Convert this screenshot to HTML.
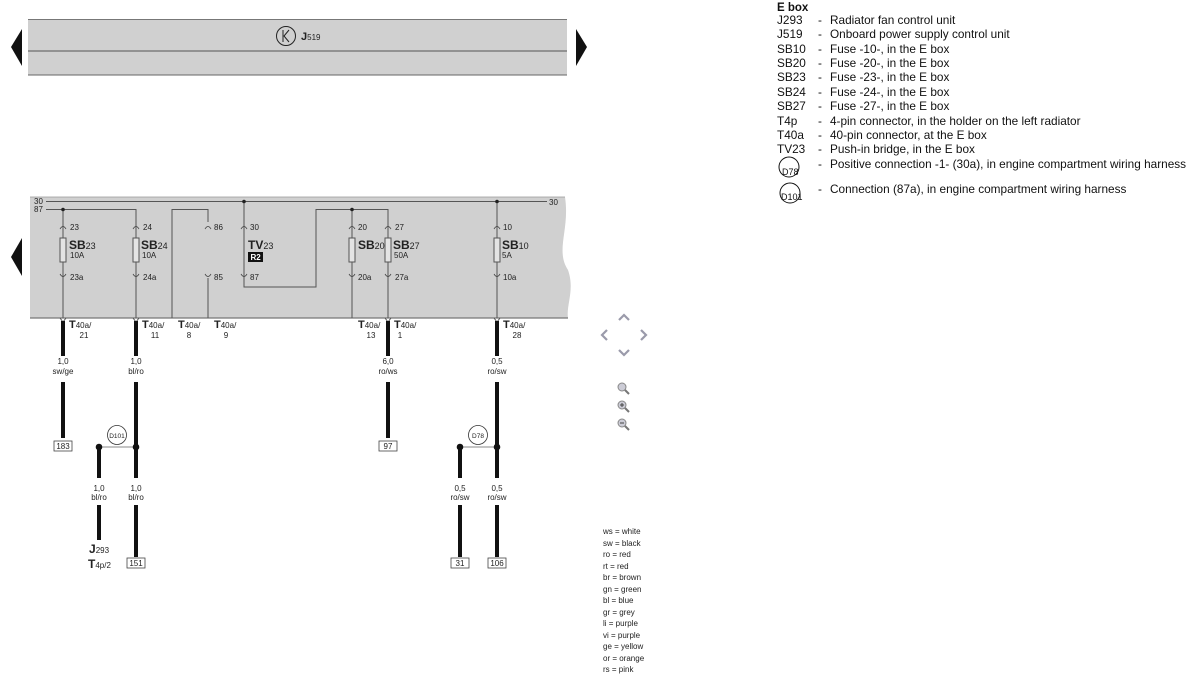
<!DOCTYPE html>
<html><head><meta charset="utf-8"><style>
html,body{margin:0;padding:0;background:#fff;}
svg{display:block;font-family:"Liberation Sans",Arial,sans-serif;}
.s{font-size:8px;fill:#222;}
.lg{font-size:11.8px;fill:#111;}
</style></head><body>
<svg width="1200" height="679" viewBox="0 0 1200 679" xmlns="http://www.w3.org/2000/svg">
<rect x="28" y="19" width="539" height="56" fill="#d0d0d0"/>
<line x1="28" y1="19.5" x2="567" y2="19.5" stroke="#777" stroke-width="1"/>
<line x1="28" y1="51" x2="567" y2="51" stroke="#555" stroke-width="1"/>
<line x1="28" y1="75" x2="567" y2="75" stroke="#666" stroke-width="1"/>
<polygon points="22,29 22,66 11,47" fill="#111"/>
<polygon points="576,29 576,66 587,47" fill="#111"/>
<circle cx="286" cy="36" r="9.5" fill="none" stroke="#222" stroke-width="1"/>
<path d="M283 30 L283 42 M289 30 L284 36 L289 42" stroke="#222" fill="none" stroke-width="1"/>
<text x="301" y="40" font-size="11" font-weight="bold" fill="#222">J<tspan font-size="8" font-weight="normal">519</tspan></text>

<path d="M30 197 L565 197 C570 230 555 250 568 270 C575 290 566 305 568 318 L30 318 Z" fill="#d0d0d0"/>
<line x1="30" y1="318" x2="568" y2="318" stroke="#777" stroke-width="1.2"/>
<line x1="30" y1="197" x2="565" y2="197" stroke="#999" stroke-width="0.8"/>
<polygon points="22,238 22,276 11,257" fill="#111"/>
<text x="34" y="204" class="s">30</text>
<text x="34" y="212" class="s">87</text>
<text x="549" y="205" class="s">30</text>
<g stroke="#555" stroke-width="1" fill="none">
<line x1="46" y1="201.5" x2="547" y2="201.5"/>
<polyline points="46,209.5 136,209.5 136,318"/>
<line x1="63" y1="209.5" x2="63" y2="318"/>
<polyline points="172,318 172,209.5 208,209.5 208,222"/>
<line x1="208" y1="278" x2="208" y2="318"/>
<polyline points="244,201.5 244,287 316,287 316,209.5 388,209.5 388,318"/>
<line x1="352" y1="209.5" x2="352" y2="318"/>
<line x1="497" y1="201.5" x2="497" y2="318"/>
</g>
<g fill="#222">
<circle cx="63" cy="209.5" r="1.8"/><circle cx="244" cy="201.5" r="1.8"/>
<circle cx="352" cy="209.5" r="1.8"/><circle cx="497" cy="201.5" r="1.8"/>
</g>
<g fill="#e4e4e4" stroke="#555" stroke-width="1">
<rect x="60" y="238" width="6" height="24"/><rect x="133" y="238" width="6" height="24"/>
<rect x="349" y="238" width="6" height="24"/><rect x="385" y="238" width="6" height="24"/>
<rect x="494" y="238" width="6" height="24"/>
</g>
<g stroke="#444" fill="none" stroke-width="0.8">
<path d="M60 229 Q63 224 66 229"/><path d="M133 229 Q136 224 139 229"/><path d="M205 229 Q208 224 211 229"/>
<path d="M241 229 Q244 224 247 229"/><path d="M349 229 Q352 224 355 229"/><path d="M385 229 Q388 224 391 229"/><path d="M494 229 Q497 224 500 229"/>
<path d="M60 274 Q63 279 66 274"/><path d="M133 274 Q136 279 139 274"/><path d="M205 274 Q208 279 211 274"/>
<path d="M241 274 Q244 279 247 274"/><path d="M349 274 Q352 279 355 274"/><path d="M385 274 Q388 279 391 274"/><path d="M494 274 Q497 279 500 274"/>
</g>
<g class="s">
<text x="70" y="230">23</text><text x="143" y="230">24</text><text x="214" y="230">86</text><text x="250" y="230">30</text>
<text x="358" y="230">20</text><text x="395" y="230">27</text><text x="503" y="230">10</text>
<text x="70" y="280">23a</text><text x="143" y="280">24a</text><text x="214" y="280">85</text><text x="250" y="280">87</text>
<text x="358" y="280">20a</text><text x="395" y="280">27a</text><text x="503" y="280">10a</text>
<text x="70" y="258">10A</text><text x="142" y="258">10A</text><text x="394" y="258">50A</text><text x="502" y="258">5A</text>
</g>
<g font-size="12" font-weight="bold" fill="#222">
<text x="69" y="249">SB<tspan font-size="9" font-weight="normal">23</tspan></text>
<text x="141" y="249">SB<tspan font-size="9" font-weight="normal">24</tspan></text>
<text x="248" y="249">TV<tspan font-size="9" font-weight="normal">23</tspan></text>
<text x="358" y="249">SB<tspan font-size="9" font-weight="normal">20</tspan></text>
<text x="393" y="249">SB<tspan font-size="9" font-weight="normal">27</tspan></text>
<text x="502" y="249">SB<tspan font-size="9" font-weight="normal">10</tspan></text>
</g>
<rect x="248" y="252" width="15" height="10" fill="#111"/>
<text x="250.5" y="260" font-size="8" font-weight="bold" fill="#fff">R2</text>

<g font-size="11" font-weight="bold" fill="#222">
<text x="69" y="328">T<tspan font-size="8" font-weight="normal">40a/</tspan></text>
<text x="142" y="328">T<tspan font-size="8" font-weight="normal">40a/</tspan></text>
<text x="178" y="328">T<tspan font-size="8" font-weight="normal">40a/</tspan></text>
<text x="214" y="328">T<tspan font-size="8" font-weight="normal">40a/</tspan></text>
<text x="358" y="328">T<tspan font-size="8" font-weight="normal">40a/</tspan></text>
<text x="394" y="328">T<tspan font-size="8" font-weight="normal">40a/</tspan></text>
<text x="503" y="328">T<tspan font-size="8" font-weight="normal">40a/</tspan></text>
</g>
<g class="s" text-anchor="middle">
<text x="84" y="338">21</text><text x="155" y="338">11</text><text x="189" y="338">8</text><text x="226" y="338">9</text>
<text x="371" y="338">13</text><text x="400" y="338">1</text><text x="517" y="338">28</text>
</g>
<g stroke="#555" stroke-width="1" fill="none">
<path d="M60 318 L63 322 L66 318"/><path d="M133 318 L136 322 L139 318"/><path d="M385 318 L388 322 L391 318"/><path d="M494 318 L497 322 L500 318"/>
</g>
<g stroke="#111" stroke-width="4" fill="none">
<line x1="63" y1="321" x2="63" y2="356"/><line x1="63" y1="382" x2="63" y2="438"/>
<line x1="136" y1="321" x2="136" y2="356"/><line x1="136" y1="382" x2="136" y2="478"/><line x1="136" y1="505" x2="136" y2="557"/>
<line x1="99" y1="447" x2="99" y2="478"/><line x1="99" y1="505" x2="99" y2="540"/>
<line x1="388" y1="321" x2="388" y2="356"/><line x1="388" y1="382" x2="388" y2="438"/>
<line x1="497" y1="321" x2="497" y2="356"/><line x1="497" y1="382" x2="497" y2="478"/><line x1="497" y1="505" x2="497" y2="557"/>
<line x1="460" y1="447" x2="460" y2="478"/><line x1="460" y1="505" x2="460" y2="557"/>
</g>
<g stroke="#888" stroke-width="1"><line x1="99" y1="447" x2="136" y2="447"/><line x1="460" y1="447" x2="497" y2="447"/></g>
<g fill="#111"><circle cx="99" cy="447" r="3.3"/><circle cx="136" cy="447" r="3.3"/><circle cx="460" cy="447" r="3.3"/><circle cx="497" cy="447" r="3.3"/></g>
<g fill="none" stroke="#333" stroke-width="0.8"><circle cx="117" cy="435" r="9.5"/><circle cx="478" cy="435" r="9.5"/></g>
<g font-size="6.5" fill="#222" text-anchor="middle"><text x="117" y="438">D101</text><text x="478" y="438">D78</text></g>
<g class="s" text-anchor="middle" font-size="7.5">
<text x="63" y="364">1,0</text><text x="63" y="374">sw/ge</text>
<text x="136" y="364">1,0</text><text x="136" y="374">bl/ro</text>
<text x="388" y="364">6,0</text><text x="388" y="374">ro/ws</text>
<text x="497" y="364">0,5</text><text x="497" y="374">ro/sw</text>
<text x="99" y="491">1,0</text><text x="99" y="500">bl/ro</text>
<text x="136" y="491">1,0</text><text x="136" y="500">bl/ro</text>
<text x="460" y="491">0,5</text><text x="460" y="500">ro/sw</text>
<text x="497" y="491">0,5</text><text x="497" y="500">ro/sw</text>
</g>
<g fill="#fff" stroke="#444" stroke-width="0.8">
<rect x="54" y="441" width="18" height="10"/><rect x="379" y="441" width="18" height="10"/>
<rect x="127" y="558" width="18" height="10"/><rect x="451" y="558" width="18" height="10"/><rect x="488" y="558" width="18" height="10"/>
</g>
<g class="s" text-anchor="middle">
<text x="63" y="449">183</text><text x="388" y="449">97</text><text x="136" y="566">151</text><text x="460" y="566">31</text><text x="497" y="566">106</text>
</g>
<g font-size="12" font-weight="bold" fill="#222">
<text x="89" y="553">J<tspan font-size="8" font-weight="normal">293</tspan></text>
<text x="88" y="568">T<tspan font-size="8" font-weight="normal">4p/2</tspan></text>
</g>

<g stroke="#9a9aaa" stroke-width="2.2" fill="none">
<path d="M619 320 L624 315 L629 320"/><path d="M619 350 L624 355 L629 350"/>
<path d="M607 330 L602 335 L607 340"/><path d="M641 330 L646 335 L641 340"/>
</g>
<g fill="#ccccd6" stroke="#888" stroke-width="1">
<circle cx="622" cy="387" r="4"/><circle cx="622" cy="405" r="4"/><circle cx="622" cy="423" r="4"/>
</g>
<g stroke="#777" stroke-width="2"><line x1="625" y1="390" x2="629" y2="394"/><line x1="625" y1="408" x2="629" y2="412"/><line x1="625" y1="426" x2="629" y2="430"/></g>
<g stroke="#444" stroke-width="1"><line x1="620" y1="405" x2="624" y2="405"/><line x1="622" y1="403" x2="622" y2="407"/><line x1="620" y1="423" x2="624" y2="423"/></g>

<g font-size="8" fill="#222">
<text x="603" y="534">ws = white</text><text x="603" y="546">sw = black</text><text x="603" y="557">ro  = red</text>
<text x="603" y="569">rt   = red</text><text x="603" y="580">br  = brown</text><text x="603" y="592">gn = green</text>
<text x="603" y="603">bl  = blue</text><text x="603" y="615">gr  = grey</text><text x="603" y="626">li   = purple</text>
<text x="603" y="638">vi  = purple</text><text x="603" y="649">ge  = yellow</text><text x="603" y="661">or  = orange</text>
<text x="603" y="672">rs  = pink</text>
</g>

<text x="777" y="11" font-size="11.5" font-weight="bold" fill="#111">E box</text>
<g class="lg">
<text x="777" y="24">J293</text><text x="818" y="24">-</text><text x="830" y="24">Radiator fan control unit</text>
<text x="777" y="38">J519</text><text x="818" y="38">-</text><text x="830" y="38">Onboard power supply control unit</text>
<text x="777" y="53">SB10</text><text x="818" y="53">-</text><text x="830" y="53">Fuse -10-, in the E box</text>
<text x="777" y="67">SB20</text><text x="818" y="67">-</text><text x="830" y="67">Fuse -20-, in the E box</text>
<text x="777" y="81">SB23</text><text x="818" y="81">-</text><text x="830" y="81">Fuse -23-, in the E box</text>
<text x="777" y="96">SB24</text><text x="818" y="96">-</text><text x="830" y="96">Fuse -24-, in the E box</text>
<text x="777" y="110">SB27</text><text x="818" y="110">-</text><text x="830" y="110">Fuse -27-, in the E box</text>
<text x="777" y="125">T4p</text><text x="818" y="125">-</text><text x="830" y="125">4-pin connector, in the holder on the left radiator</text>
<text x="777" y="139">T40a</text><text x="818" y="139">-</text><text x="830" y="139">40-pin connector, at the E box</text>
<text x="777" y="153">TV23</text><text x="818" y="153">-</text><text x="830" y="153">Push-in bridge, in the E box</text>
<text x="818" y="168">-</text><text x="830" y="168">Positive connection -1- (30a), in engine compartment wiring harness</text>
<text x="818" y="193">-</text><text x="830" y="193">Connection (87a), in engine compartment wiring harness</text>
</g>
<g fill="none" stroke="#111" stroke-width="1"><circle cx="789" cy="167" r="10"/><circle cx="790" cy="193" r="10"/></g>
<g font-size="9" fill="#111"><text x="782" y="175">D78</text><text x="781" y="200">D101</text></g>
</svg>
</body></html>
